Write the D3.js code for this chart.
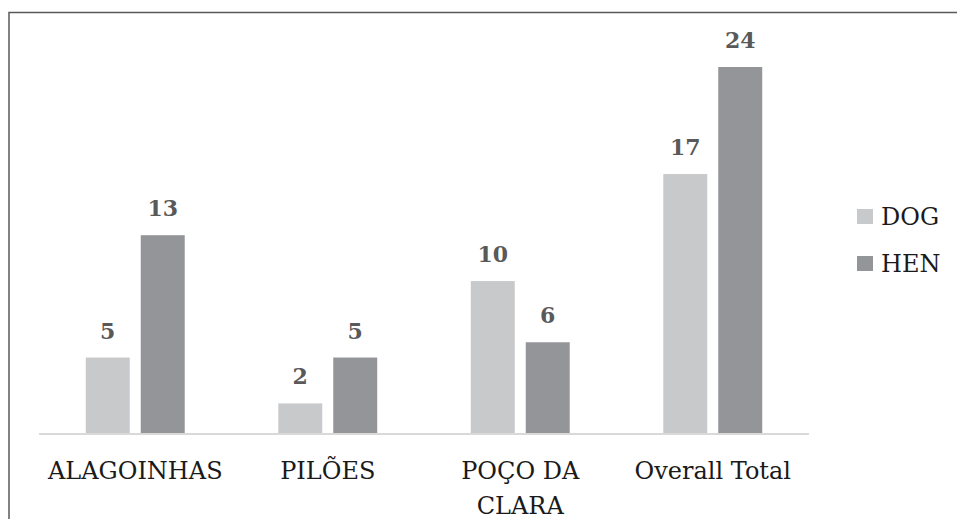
<!DOCTYPE html>
<html lang="en">
<head>
  <meta charset="UTF-8">
  <title>DOG / HEN</title>
  <style>
    body { margin: 0; background: #fff; }
    .value { font-size: 22px; font-weight: bold; fill: #595959; text-anchor: middle; }
    .cat { font-size: 24px; fill: #1a1a1a; text-anchor: middle; }
    .legend text { font-size: 24px; fill: #1a1a1a; }
  </style>
</head>
<body>
  <svg width="957" height="519"></svg>
  <script src="https://cdn.jsdelivr.net/npm/d3@7"></script>
  <script>
    var categories = ['ALAGOINHAS', 'PILÕES', 'POÇO DA CLARA', 'Overall Total']
    var labelLines = [['ALAGOINHAS'], ['PILÕES'], ['POÇO DA', 'CLARA'], ['Overall Total']]
    var series = ['DOG', 'HEN']
    var dogValues = [5, 2, 10, 17]
    var henValues = [13, 5, 6, 24]

    var colors = { DOG: '#c8c9cb', HEN: '#939598' }
    var serif = '"DejaVu Serif", serif'

    var svg = d3.select('svg')
    var baseY = 434

    // frame (top and left edges only are visible)
    svg.append('path')
      .attr('d', 'M9,519 V12.5 H957')
      .attr('fill', 'none')
      .attr('stroke', '#595959')
      .attr('stroke-width', 1.5)

    var x0 = d3.scaleBand()
      .domain(categories)
      .range([39, 809])
      .paddingInner(0.486)
      .paddingOuter(0.243)

    var x1 = d3.scaleBand()
      .domain(series)
      .range([0, x0.bandwidth()])
      .paddingInner(0.2)

    var y = d3.scaleLinear()
      .domain([0, 24])
      .range([baseY, 67])

    var rows = categories.map(function(c, i) {
      return { cat: c, lines: labelLines[i], vals: [
        { key: 'DOG', v: dogValues[i] },
        { key: 'HEN', v: henValues[i] }
      ] }
    })

    var g = svg.selectAll('.grp')
      .data(rows)
      .enter()
      .append('g')
      .attr('class', 'grp')
      .attr('transform', function(d) { return 'translate(' + x0(d.cat) + ',0)' })

    g.selectAll('rect')
      .data(function(d) { return d.vals })
      .enter()
      .append('rect')
      .attr('x', function(d) { return x1(d.key) })
      .attr('width', x1.bandwidth())
      .attr('y', function(d) { return y(d.v) })
      .attr('height', function(d) { return baseY - y(d.v) })
      .attr('fill', function(d) { return colors[d.key] })

    g.selectAll('.value')
      .data(function(d) { return d.vals })
      .enter()
      .append('text')
      .attr('class', 'value')
      .style('font-family', serif)
      .attr('x', function(d) { return x1(d.key) + x1.bandwidth() / 2 })
      .attr('y', function(d) { return y(d.v) - 19 })
      .text(function(d) { return d.v })

    // baseline
    svg.append('line')
      .attr('x1', 39).attr('x2', 809)
      .attr('y1', baseY).attr('y2', baseY)
      .attr('stroke', '#d9d9d9')
      .attr('stroke-width', 2)

    // category labels
    var cat = svg.selectAll('.cat')
      .data(rows)
      .enter()
      .append('text')
      .attr('class', 'cat')
      .style('font-family', serif)
      .attr('transform', function(d) {
        return 'translate(' + (x0(d.cat) + x0.bandwidth() / 2) + ',479)'
      })

    cat.selectAll('tspan')
      .data(function(d) { return d.lines })
      .enter()
      .append('tspan')
      .attr('x', 0)
      .attr('y', function(d, i) { return i * 35 })
      .text(function(d) { return d })

    // legend
    var legend = svg.append('g')
      .attr('class', 'legend')
      .selectAll('g')
      .data(series)
      .enter()
      .append('g')
      .attr('transform', function(d, i) { return 'translate(857,' + (209 + i * 47) + ')' })

    legend.append('rect')
      .attr('width', 16)
      .attr('height', 15)
      .attr('fill', function(d) { return colors[d] })

    legend.append('text')
      .style('font-family', serif)
      .attr('x', 24)
      .attr('y', 16)
      .text(function(d) { return d })
  </script>
</body>
</html>
